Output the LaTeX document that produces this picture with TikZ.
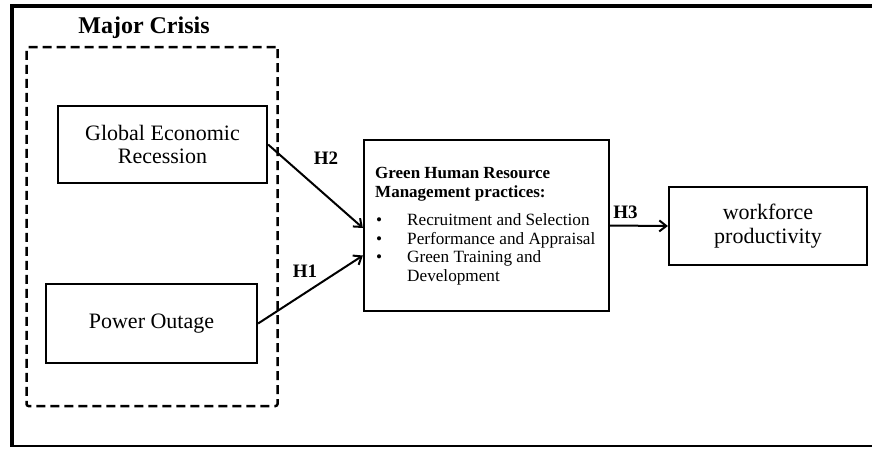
\documentclass[tikz,border=0pt]{standalone}
\usepackage{fontspec}
\setmainfont{Liberation Serif}
\usetikzlibrary{arrows.meta}
\begin{document}
\begin{tikzpicture}[x=1pt,y=-1pt,
  box/.style={draw,line width=2.2pt,rectangle,inner sep=0pt,align=center,font=\fontsize{22}{23.5}\selectfont},
  conn/.style={line width=2pt,-{Straight Barb[length=7pt,width=11pt,line width=2pt]}},
  hlab/.style={font=\bfseries\fontsize{19}{21}\selectfont},
  gline/.style={anchor=base west,inner sep=0pt,font=\fontsize{17.2}{19}\selectfont},
  bline/.style={anchor=base west,inner sep=0pt,font=\bfseries\fontsize{17}{19}\selectfont}]
\useasboundingbox (0,0) rectangle (872,448);
\fill[white] (0,0) rectangle (872,448);
% outer frame
\draw[line width=4pt] (872,6) -- (12,6) -- (12,446);
\draw[line width=2.5pt] (10,446) -- (872,446);
% dashed crisis box
\node[draw,line width=2.5pt,dash pattern=on 9pt off 5pt,rounded corners=2pt,minimum width=251pt,minimum height=359pt,inner sep=0pt] (crisis) at (152,226.5) {};
\node[anchor=base,inner sep=0pt,font=\bfseries\fontsize{24}{26}\selectfont] (crisistitle) at (144,33) {Major Crisis};
% boxes
\node[box,minimum width=209pt,minimum height=77pt] (ger) at (162.5,144.5) {Global Economic\\Recession};
\node[box,minimum width=211pt,minimum height=79pt] (po) at (151.5,323.5) {Power Outage};
\node[box,minimum width=245pt,minimum height=171pt] (ghrm) at (486.5,225.5) {};
\node[box,minimum width=198pt,minimum height=78pt] (wf) at (768,226) {workforce\\productivity};
% green box text
\node[bline] (t1) at (375,178) {Green Human Resource};
\node[bline] (t2) at (375,197) {Management practices:};
\node[gline] (b1) at (376,225) {\textbullet};
\node[gline] (l1) at (407,225) {Recruitment and Selection};
\node[gline] (b2) at (376,244) {\textbullet};
\node[gline] (l2) at (407,244) {Performance and Appraisal};
\node[gline] (b3) at (376,262.5) {\textbullet};
\node[gline] (l3) at (407,262.5) {Green Training and};
\node[gline] (l4) at (407,281) {Development};
% connectors
\draw[conn] (ger.east) -- ([yshift=-2.5pt]ghrm.west);
\draw[conn] (po.east) -- ([yshift=-30pt]ghrm.west);
\draw[conn] (ghrm.east) -- (wf.west);
% labels
\node[hlab] (h2) at (326,158) {H2};
\node[hlab] (h1) at (305,271) {H1};
\node[hlab] (h3) at (625.5,212) {H3};
\end{tikzpicture}
\end{document}
